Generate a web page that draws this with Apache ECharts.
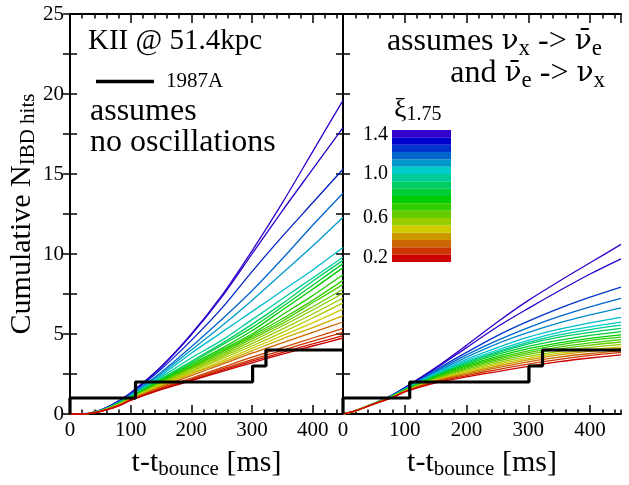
<!DOCTYPE html>
<html><head><meta charset="utf-8">
<script src="https://cdn.jsdelivr.net/npm/echarts@6/dist/echarts.min.js"></script>
<style>html,body{margin:0;padding:0;background:#fff}#c{width:629px;height:485px}</style>
</head><body><div id="c"></div>
<script>
// time grid (ms after bounce)
const T = [0, 20, 40, 60, 80, 100, 150, 200, 250, 300, 350, 400, 450];

// left panel: no oscillations
const leftColors = ['#3300cc','#2a00cc','#0022cc','#0066cc','#0099cc','#00bbcc',
  '#00cc99','#00cc66','#00cc33','#00cc00','#22cc00','#33cc00','#44cc00','#66cc00',
  '#88cc00','#99cc00','#aacc00','#cccc00','#ccaa00','#cc6600','#cc4400','#cc3300','#cc1100','#cc0000'];
const leftValues = [
  [0,0,0.12,0.40,0.82,1.32,2.95,5.00,7.40,10.2,13.2,16.4,19.6],
  [0,0,0.12,0.40,0.80,1.30,2.92,4.95,7.30,10.0,12.7,15.3,17.9],
  [0,0,0.12,0.39,0.78,1.27,2.80,4.60,6.60,8.90,11.1,13.2,15.3],
  [0,0,0.11,0.37,0.75,1.22,2.60,4.20,5.90,7.70,9.70,11.8,13.8],
  [0,0,0.11,0.36,0.73,1.18,2.50,4.00,5.50,7.10,8.80,10.5,12.3],
  [0,0,0.10,0.35,0.70,1.15,2.40,3.80,5.10,6.40,7.70,9.00,10.4],
  [0,0,0.10,0.34,0.68,1.10,2.30,3.50,4.60,5.90,7.20,8.50,9.80],
  [0,0,0.10,0.33,0.67,1.08,2.20,3.30,4.40,5.60,6.90,8.30,9.60],
  [0,0,0.10,0.33,0.66,1.06,2.15,3.20,4.30,5.40,6.70,8.05,9.40],
  [0,0,0.10,0.32,0.65,1.05,2.10,3.10,4.10,5.20,6.50,7.80,9.15],
  [0,0,0.10,0.32,0.64,1.03,2.05,3.00,4.00,5.00,6.20,7.40,8.70],
  [0,0,0.09,0.31,0.62,1.00,2.00,2.95,3.90,4.90,5.95,7.10,8.35],
  [0,0,0.09,0.31,0.62,1.00,1.98,2.90,3.85,4.80,5.80,6.95,8.10],
  [0,0,0.09,0.30,0.61,0.98,1.95,2.85,3.75,4.70,5.65,6.70,7.80],
  [0,0,0.09,0.30,0.60,0.97,1.92,2.80,3.65,4.55,5.50,6.50,7.55],
  [0,0,0.09,0.30,0.59,0.96,1.88,2.70,3.55,4.40,5.30,6.25,7.25],
  [0,0,0.09,0.29,0.58,0.94,1.85,2.65,3.45,4.25,5.10,6.00,6.95],
  [0,0,0.08,0.29,0.57,0.93,1.80,2.55,3.30,4.10,4.90,5.70,6.55],
  [0,0,0.08,0.28,0.56,0.91,1.75,2.50,3.20,3.95,4.70,5.40,6.15],
  [0,0,0.08,0.28,0.55,0.90,1.70,2.40,3.10,3.80,4.45,5.10,5.75],
  [0,0,0.08,0.27,0.53,0.88,1.62,2.25,2.90,3.55,4.15,4.75,5.35],
  [0,0,0.08,0.27,0.52,0.87,1.58,2.18,2.80,3.40,3.98,4.55,5.10],
  [0,0,0.07,0.26,0.51,0.86,1.55,2.12,2.72,3.30,3.85,4.38,4.90],
  [0,0,0.07,0.26,0.50,0.85,1.52,2.08,2.65,3.20,3.74,4.25,4.75]
];

// right panel: with flavour swap
const rightColors = ['#3300cc','#2a00cc','#0033cc','#0066cc','#0088cc','#00bbcc',
  '#00cccc','#00cc99','#00cc66','#00cc33','#00cc00','#33cc00','#44cc00','#66cc00',
  '#99cc00','#cccc00','#cc9900','#cc6600','#cc3300','#cc0000'];
const rightValues = [
  [0,0.20,0.50,0.82,1.20,1.65,2.90,4.30,5.75,7.10,8.30,9.45,10.6],
  [0,0.20,0.50,0.82,1.19,1.63,2.85,4.15,5.45,6.60,7.70,8.75,9.70],
  [0,0.20,0.50,0.82,1.18,1.60,2.75,3.85,4.90,5.80,6.60,7.30,7.93],
  [0,0.20,0.50,0.81,1.17,1.58,2.68,3.70,4.60,5.40,6.10,6.70,7.23],
  [0,0.20,0.50,0.81,1.16,1.56,2.60,3.55,4.40,5.10,5.70,6.20,6.64],
  [0,0.20,0.50,0.81,1.15,1.55,2.55,3.42,4.15,4.80,5.30,5.70,6.04],
  [0,0.20,0.50,0.80,1.14,1.53,2.50,3.32,4.00,4.60,5.10,5.45,5.74],
  [0,0.20,0.50,0.80,1.13,1.52,2.45,3.25,3.90,4.48,4.95,5.28,5.55],
  [0,0.20,0.50,0.80,1.12,1.51,2.42,3.18,3.82,4.38,4.80,5.10,5.35],
  [0,0.20,0.50,0.80,1.12,1.50,2.38,3.10,3.72,4.22,4.62,4.92,5.15],
  [0,0.20,0.50,0.79,1.11,1.49,2.33,3.02,3.60,4.08,4.45,4.73,4.95],
  [0,0.20,0.50,0.79,1.10,1.48,2.28,2.95,3.50,3.95,4.32,4.60,4.80],
  [0,0.20,0.50,0.79,1.09,1.47,2.24,2.88,3.40,3.83,4.18,4.44,4.65],
  [0,0.20,0.49,0.78,1.08,1.45,2.20,2.80,3.30,3.72,4.05,4.30,4.50],
  [0,0.20,0.49,0.78,1.07,1.44,2.16,2.72,3.20,3.60,3.92,4.16,4.35],
  [0,0.20,0.49,0.78,1.06,1.43,2.12,2.64,3.10,3.48,3.80,4.02,4.20],
  [0,0.20,0.49,0.77,1.05,1.42,2.08,2.56,3.00,3.38,3.70,3.92,4.10],
  [0,0.20,0.49,0.77,1.04,1.41,2.04,2.48,2.90,3.26,3.56,3.78,3.95],
  [0,0.20,0.48,0.77,1.03,1.40,2.00,2.40,2.78,3.12,3.42,3.66,3.85],
  [0,0.20,0.48,0.76,1.02,1.38,1.95,2.32,2.65,2.98,3.27,3.50,3.70]
];

// SN1987A Kamiokande-II cumulative events (step)
const stepT = [0, 0, 108, 108, 301, 301, 323, 323, 450];
const stepN = [0, 1, 1, 2, 2, 3, 3, 4, 4];

// colour bar (xi_1.75), bottom to top
const cbColors = ['#cc0000','#cc3300','#cc6600','#cc9900','#cccc00','#99cc00','#66cc00','#33cc00',
  '#00cc00','#00cc33','#00cc66','#00cc99','#00cccc','#0099cc','#0066cc','#0033cc','#0000cc','#3300cc'];
const cbTicks = [0.2, 0.6, 1.0, 1.4];

const FF = "'Liberation Serif','DejaVu Serif',serif";
const chart = echarts.init(document.getElementById('c'), null, {renderer: 'canvas'});

function pairs(xs, ys) { return xs.map((x, i) => [x, ys[i]]); }

const xNameRich = {
  m: {fontFamily: FF, fontSize: 30, color: '#000', lineHeight: 34},
  s: {fontFamily: FF, fontSize: 21, color: '#000', lineHeight: 18, verticalAlign: 'bottom'}
};
const blackLine = {show: true, lineStyle: {color: '#000', width: 2}};

function panelX(grid) {
  return [
    {gridIndex: grid, type: 'value', min: 0, max: 450, interval: 100, position: 'bottom',
     axisLine: blackLine, axisTick: {inside: true, length: 9, lineStyle: {color: '#000', width: 1.5}},
     axisLabel: {fontFamily: FF, fontSize: 21, color: '#000', margin: 6, showMaxLabel: false},
     splitLine: {show: false},
     name: '{m|t-t}{s|bounce}{m| [ms]}', nameLocation: 'middle', nameGap: 32,
     nameTextStyle: {rich: xNameRich}},
    {gridIndex: grid, type: 'value', min: 0, max: 450, interval: 20, position: 'bottom',
     axisLine: {show: false}, axisTick: {inside: true, length: 4.5, lineStyle: {color: '#000', width: 1.5}},
     axisLabel: {show: false}, splitLine: {show: false}},
    {gridIndex: grid, type: 'value', min: 0, max: 450, interval: 100, position: 'top',
     axisLine: blackLine, axisTick: {inside: true, length: 9, lineStyle: {color: '#000', width: 1.5}},
     axisLabel: {show: false}, splitLine: {show: false}},
    {gridIndex: grid, type: 'value', min: 0, max: 450, interval: 20, position: 'top',
     axisLine: {show: false}, axisTick: {inside: true, length: 4.5, lineStyle: {color: '#000', width: 1.5}},
     axisLabel: {show: false}, splitLine: {show: false}}
  ];
}
function panelY(grid, labels) {
  const base = {gridIndex: grid, type: 'value', min: 0, max: 25, interval: 2.5,
    axisTick: {inside: true, length: 7, lineStyle: {color: '#000', width: 1.5}},
    splitLine: {show: false}, axisLine: blackLine};
  const left = Object.assign({}, base, {position: 'left',
    axisLabel: labels ? {fontFamily: FF, fontSize: 21, color: '#000', margin: 6,
      formatter: v => (v % 5 === 0 ? String(v) : '')} : {show: false}});
  if (labels) {
    left.name = '{m|Cumulative N}{s|IBD hits}';
    left.nameLocation = 'middle';
    left.nameGap = 31;
    left.nameTextStyle = {rich: xNameRich};
  }
  const right = Object.assign({}, base, {position: 'right', axisLabel: {show: false}});
  return [left, right];
}

const cbLabelRich = {
  t: {fontFamily: FF, fontSize: 20, color: '#000', padding: [10, 0, 0, 0]},
  b: {fontFamily: FF, fontSize: 20, color: '#000', padding: [0, 0, 8, 0]},
  n: {fontFamily: FF, fontSize: 20, color: '#000'}
};
const xAxes = [].concat(panelX(0), panelX(1),
  [{gridIndex: 2, type: 'category', data: ['xi'], show: false}]);
const yAxes = [].concat(panelY(0, true), panelY(1, false),
  [{gridIndex: 2, type: 'value', min: 0.2, max: 1.4, interval: 0.4,
    axisLine: {show: false}, axisTick: {show: false}, splitLine: {show: false},
    axisLabel: {margin: 4, rich: cbLabelRich, formatter: v => {
      const s = v.toFixed(1);
      if (Math.abs(v - cbTicks[cbTicks.length - 1]) < 1e-6) return '{t|' + s + '}';
      if (Math.abs(v - cbTicks[0]) < 1e-6) return '{b|' + s + '}';
      return '{n|' + s + '}';
    }}}]);

const series = [];
leftValues.forEach((vals, i) => series.push({
  type: 'line', xAxisIndex: 0, yAxisIndex: 0, data: pairs(T, vals), smooth: 0.3,
  symbol: 'none', lineStyle: {color: leftColors[i], width: 1.3}, z: 2, silent: true
}));
rightValues.forEach((vals, i) => series.push({
  type: 'line', xAxisIndex: 4, yAxisIndex: 2, data: pairs(T, vals), smooth: 0.3,
  symbol: 'none', lineStyle: {color: rightColors[i], width: 1.3}, z: 2, silent: true
}));
[[0, 0], [4, 2]].forEach(([xi, yi]) => series.push({
  name: '1987A', type: 'line', xAxisIndex: xi, yAxisIndex: yi, data: pairs(stepT, stepN),
  symbol: 'none', color: '#000', lineStyle: {color: '#000', width: 3.2}, z: 5
}));
// colour bar: transparent base then bands
const band = (cbTicks[cbTicks.length - 1] - cbTicks[0]) / cbColors.length;
series.push({type: 'bar', xAxisIndex: 8, yAxisIndex: 4, stack: 'cb', data: [cbTicks[0]],
  barWidth: '100%', itemStyle: {color: 'rgba(0,0,0,0)'}, silent: true});
cbColors.forEach(c => series.push({type: 'bar', xAxisIndex: 8, yAxisIndex: 4, stack: 'cb',
  data: [band], barWidth: '100%', itemStyle: {color: c}, silent: true}));

const rich2 = {
  m: {fontFamily: FF, fontSize: 32, color: '#000', lineHeight: 36},
  b: {fontFamily: "'DejaVu Serif',serif", fontSize: 28, color: '#000', lineHeight: 36},
  s: {fontFamily: FF, fontSize: 23, color: '#000', lineHeight: 20, verticalAlign: 'bottom'}
};

chart.setOption({
  animation: false,
  backgroundColor: '#fff',
  grid: [
    {left: 70, top: 14, width: 273, height: 419},
    {left: 343, top: 14, width: 278, height: 419},
    {left: 392, top: 130, width: 59, height: 132}
  ],
  xAxis: xAxes,
  yAxis: yAxes,
  legend: {data: ['1987A'], left: 96, top: 71, padding: 0, icon: 'rect', itemWidth: 58, itemHeight: 3.5,
    textStyle: {fontFamily: FF, fontSize: 21, color: '#000', padding: [0, 0, 0, 7]}},
  graphic: [
    {type: 'text', left: 88, top: 27, style: {text: 'KII @ 51.4kpc', font: '29px ' + FF, fill: '#000'}},
    {type: 'text', left: 90, top: 96, style: {text: 'assumes', font: '32px ' + FF, fill: '#000'}},
    {type: 'text', left: 90, top: 127, style: {text: 'no oscillations', font: '32px ' + FF, fill: '#000'}},
    {type: 'text', right: 27, top: 26, style: {text: '{m|assumes }{b|ν}{s|x}{m| -> }{b|ν\u0304}{s|e}', rich: rich2, align: 'right'}},
    {type: 'text', right: 24, top: 58, style: {text: '{m|and }{b|ν\u0304}{s|e}{m| -> }{b|ν}{s|x}', rich: rich2, align: 'right'}},
    {type: 'text', left: 394, top: 96, style: {text: '{g|ξ}{s|1.75}', rich: {
      g: {fontFamily: FF, fontSize: 28, color: '#000', lineHeight: 30},
      s: {fontFamily: FF, fontSize: 20, color: '#000', lineHeight: 20, verticalAlign: 'bottom'}}}}
  ],
  series: series
});
</script></body></html>
